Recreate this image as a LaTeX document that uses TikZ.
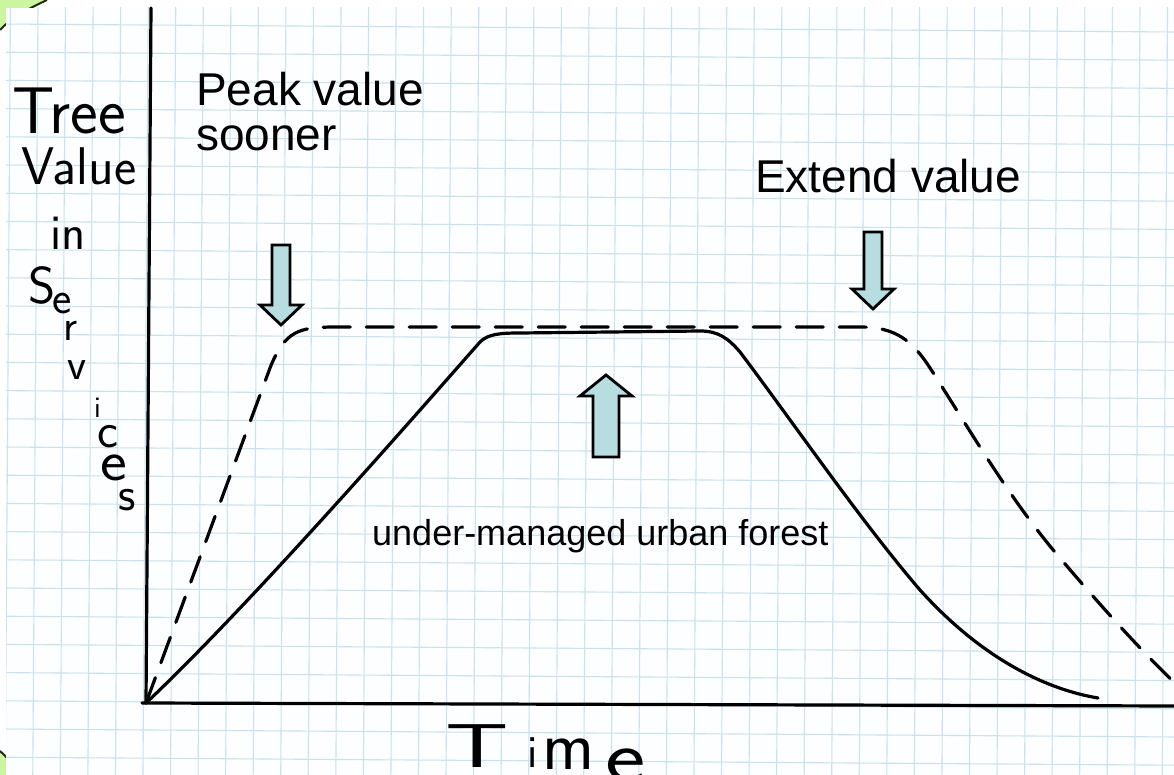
\documentclass[tikz,border=0pt]{standalone}
\usepackage{fontspec}
\setmainfont{Liberation Sans}
\definecolor{gridc}{HTML}{CBE2EC}
\definecolor{arrowc}{HTML}{B7DDE0}
\definecolor{slidegreen}{HTML}{CCF5A0}
\definecolor{edgegreen}{HTML}{1E2A14}
\newcommand\hwput[5]{\rlap{\hspace*{#1pt}\raisebox{-#2pt}{\fontsize{#3}{#3}\selectfont\scalebox{#4}[1]{#5}}}}
\begin{document}
\begin{tikzpicture}[x=1pt,y=-1pt,
  curve/.style={line width=3.2pt, line cap=round, line join=round},
  dashcurve/.style={curve, dash pattern=on 27pt off 16pt},
  axis/.style={line width=3.2pt, line cap=round},
  blockarrow/.style={draw=black, fill=arrowc, line width=2.8pt, line join=miter},
  gridline/.style={gridc, line width=1.1pt},
  hand/.style={font=\sffamily, inner sep=0pt, anchor=base west},
  lbl/.style={inner sep=0pt, align=left}]
\useasboundingbox (0,0) rectangle (1174,775);
\fill[white] (0,0) rectangle (1174,775);
% slide corners
\fill[slidegreen] (0,0) -- (47,0) .. controls (30,8) and (12,17) .. (0,30) -- cycle;
\draw[edgegreen, line width=2pt] (47,0) .. controls (30,8) and (12,17) .. (0,30);
\fill[slidegreen] (0,751) .. controls (8,758) and (14,766) .. (19,775) -- (0,775) -- cycle;
\draw[edgegreen, line width=2pt] (0,751) .. controls (8,758) and (14,766) .. (19,775);
% photo of graph paper
\fill[white!99!cyan] (6,8) rectangle (1174,775);
\begin{scope}
  \clip (6,8) rectangle (1174,775);
  \begin{scope}[rotate=-0.39]
    \foreach \k in {-1,...,43} \draw[gridline] ({10.5+27.55*\k},-40) -- ({10.5+27.55*\k},830);
    \foreach \j in {-2,...,29} \draw[gridline] (-40,{24+28.2*\j}) -- (1230,{24+28.2*\j});
  \end{scope}
\end{scope}
% axes
\coordinate (O) at (146,703);
\coordinate (ytop) at (151,8);
\coordinate (xstart) at (142,703);
\coordinate (xend) at (1176,706);
\draw[axis] (O) -- (ytop);
\draw[axis] (xstart) -- (xend);
% under-managed curve
\draw[curve] (O) .. controls (250,605) and (420,410) .. (480,342)
  .. controls (488,334) and (500,333) .. (520,333) -- (700,331)
  .. controls (718,331) and (728,338) .. (740,352)
  .. controls (795,425) and (860,520) .. (920,590)
  .. controls (985,662) and (1050,690) .. (1098,698);
% well-managed curve
\draw[dashcurve] (O) -- (270,368) .. controls (285,330) and (300,328) .. (330,327)
  -- (860,327) .. controls (895,327) and (912,340) .. (930,368)
  .. controls (970,430) and (1010,500) .. (1060,558)
  .. controls (1100,605) and (1140,650) .. (1180,688);
% block arrows
\draw[blockarrow] (272,245) -- (290,245) -- (290,305) -- (302,305) -- (281,325) -- (260,305) -- (272,305) -- cycle;
\draw[blockarrow] (864,232) -- (882,232) -- (882,289) -- (894,289) -- (873,309) -- (852,289) -- (864,289) -- cycle;
\draw[blockarrow] (593,457) -- (619,457) -- (619,396) -- (632,396) -- (606,375) -- (580,396) -- (593,396) -- cycle;
% typed labels
\node[lbl, anchor=north west, font=\fontsize{46}{45}\selectfont] (peak) at (196,72) {Peak value\\sooner};
\node[lbl, anchor=base west, font=\fontsize{46}{46}\selectfont] (extend) at (755,193) {Extend value};
\node[lbl, anchor=base west, font=\fontsize{36}{36}\selectfont] (under) at (372,545) {under-managed urban forest};
% handwritten axis labels
\node[hand, font=\sffamily\fontsize{66}{66}\selectfont] (tree) at (12,134) {Tree};
\node[hand, font=\sffamily\fontsize{53}{53}\selectfont] (value) at (21,185) {Value};
\node[hand, font=\sffamily\fontsize{50}{50}\selectfont] (in) at (50,250) {in};
\node[hand] (services) at (28,303) {\hwput{0}{0}{52}{1}{S}\hwput{24}{10}{46}{1}{e}\hwput{35}{37}{44}{1}{r}\hwput{39}{77}{44}{1}{v}\hwput{66}{114}{30}{1}{i}\hwput{69}{144}{50}{1}{c}\hwput{72}{177}{58}{1.1}{e}\hwput{90}{207}{48}{1}{s}\phantom{S}};
\node[hand] (time) at (445,767) {\hwput{0}{0}{62}{1.6}{T}\hwput{82}{0}{46}{1}{i}\hwput{97}{2}{70}{1}{m}\hwput{160}{14}{74}{1.3}{e}\phantom{T}};
\end{tikzpicture}
\end{document}
